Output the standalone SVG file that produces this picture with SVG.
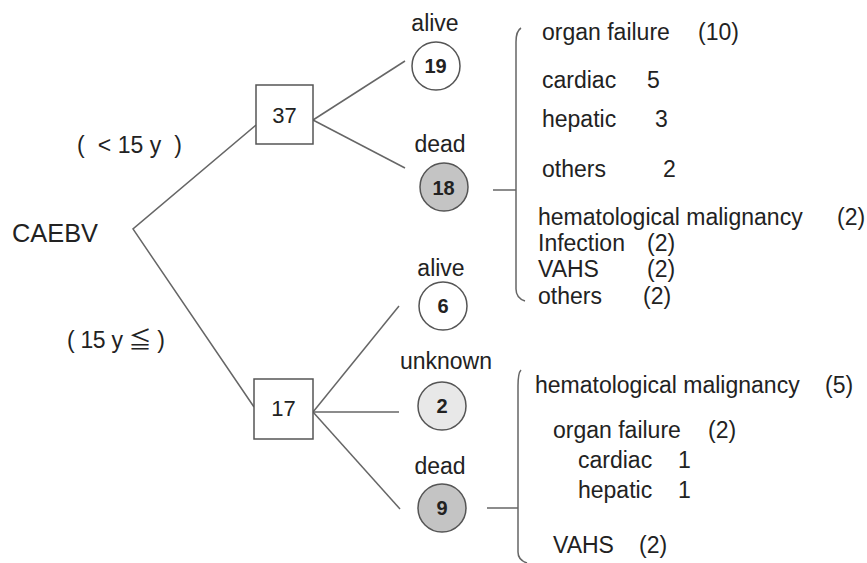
<svg xmlns="http://www.w3.org/2000/svg" width="867" height="563" viewBox="0 0 867 563">
<style>
text{font-family:"Liberation Sans","Noto Sans CJK JP",Arial,sans-serif;font-size:23px;fill:#222}
.num{font-size:20px;font-weight:bold;text-anchor:middle}
.bx{font-size:22px;text-anchor:middle}
.lab{text-anchor:middle}
.ln{stroke:#666;stroke-width:1.5;fill:none}
.box{fill:#fff;stroke:#555;stroke-width:1.5}
.c{stroke:#555;stroke-width:1.5}
</style>
<rect width="867" height="563" fill="#fff"/>
<g id="connectors">
<path class="ln" d="M256 125 L133 229 L254 407"/>
<line class="ln" x1="313" y1="120" x2="405" y2="61"/>
<line class="ln" x1="313" y1="120" x2="405" y2="168"/>
<line class="ln" x1="313" y1="412" x2="399" y2="306"/>
<line class="ln" x1="313" y1="412" x2="399" y2="412"/>
<line class="ln" x1="313" y1="412" x2="400" y2="509"/>
<line class="ln" x1="493" y1="190" x2="516" y2="190"/>
<line class="ln" x1="487" y1="508" x2="518" y2="508"/>
<path class="ln" d="M521 28 Q516 31 516 42 L516 289 Q516 298 525 301"/>
<path class="ln" d="M521 370 Q518 373 518 386 L518 552 Q518 560 527 563"/>
</g>
<g id="root"><text x="12" y="242" style="font-size:26px" textLength="86" lengthAdjust="spacingAndGlyphs">CAEBV</text></g>
<g id="label-young"><text x="77" y="153" xml:space="preserve" textLength="105" lengthAdjust="spacing">(  &lt; 15 y  )</text></g>
<g id="label-old"><text x="67" y="348" xml:space="preserve" textLength="98" lengthAdjust="spacing">( 15 y ≦ )</text></g>
<g id="box37"><rect class="box" x="256" y="85" width="57" height="59"/><text class="bx" x="284.5" y="123">37</text></g>
<g id="box17"><rect class="box" x="254" y="379" width="59" height="60"/><text class="bx" x="283.5" y="416">17</text></g>
<g id="n19"><text class="lab" x="435" y="31">alive</text><circle class="c" cx="436" cy="66" r="24" fill="#fff"/><text class="num" x="435.5" y="73">19</text></g>
<g id="n18"><text class="lab" x="440" y="152">dead</text><circle class="c" cx="444" cy="187" r="24" fill="#c4c4c4"/><text class="num" x="443.5" y="194.5">18</text></g>
<g id="n6"><text class="lab" x="441" y="276">alive</text><circle class="c" cx="443" cy="306" r="24" fill="#fff"/><text class="num" x="443" y="313">6</text></g>
<g id="n2"><text class="lab" x="446" y="369">unknown</text><circle class="c" cx="442" cy="406" r="24" fill="#e8e8e8"/><text class="num" x="442" y="413">2</text></g>
<g id="n9"><text class="lab" x="440" y="474">dead</text><circle class="c" cx="442" cy="508" r="24" fill="#c4c4c4"/><text class="num" x="442" y="515">9</text></g>
<g id="causes-young">
<text x="542" y="40">organ failure <tspan x="698">(10)</tspan></text>
<text x="542" y="88">cardiac <tspan x="647">5</tspan></text>
<text x="542" y="127">hepatic <tspan x="655">3</tspan></text>
<text x="542" y="177">others <tspan x="663">2</tspan></text>
<text x="538" y="225">hematological malignancy <tspan x="837">(2)</tspan></text>
<text x="538" y="251">Infection <tspan x="647">(2)</tspan></text>
<text x="538" y="277">VAHS <tspan x="647">(2)</tspan></text>
<text x="538" y="304">others <tspan x="643">(2)</tspan></text>
</g>
<g id="causes-old">
<text x="535" y="393">hematological malignancy <tspan x="825">(5)</tspan></text>
<text x="553" y="438">organ failure <tspan x="708">(2)</tspan></text>
<text x="578" y="468">cardiac <tspan x="678">1</tspan></text>
<text x="578" y="498">hepatic <tspan x="678">1</tspan></text>
<text x="553" y="553">VAHS <tspan x="639">(2)</tspan></text>
</g>
</svg>
